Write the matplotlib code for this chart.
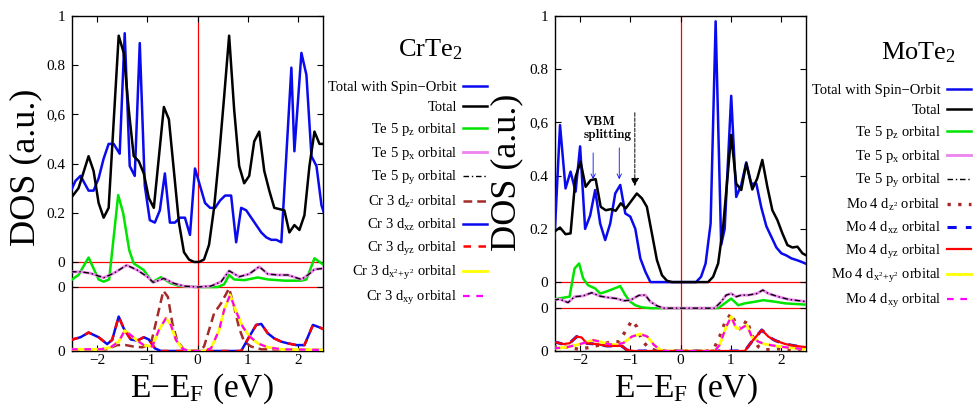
import numpy as np
import matplotlib
matplotlib.use('Agg')
import matplotlib.pyplot as plt

plt.rcParams['font.family'] = ['Liberation Serif', 'DejaVu Serif']
plt.rcParams['mathtext.fontset'] = 'custom'
plt.rcParams['mathtext.rm'] = 'Liberation Serif'
plt.rcParams['mathtext.it'] = 'Liberation Serif:italic'
plt.rcParams['mathtext.bf'] = 'Liberation Serif:bold'

# ---------------- CrTe2 ----------------
cr_tot_so_e = [-2.52, -2.43, -2.33, -2.17, -2.07, -1.97, -1.87, -1.77, -1.67, -1.55, -1.45, -1.35, -1.25,
               -1.15, -1.05, -0.95, -0.85, -0.75, -0.65, -0.55, -0.45, -0.35, -0.25, -0.15, -0.05, 0.05,
               0.15, 0.25, 0.35, 0.45, 0.55, 0.67, 0.77, 0.87, 0.97, 1.07, 1.17, 1.27, 1.37, 1.47, 1.57,
               1.67, 1.87, 1.93, 2.07, 2.17, 2.27, 2.37, 2.47, 2.52]
cr_tot_so = [0.29, 0.33, 0.35, 0.29, 0.29, 0.34, 0.42, 0.48, 0.48, 0.44, 0.93, 0.39, 0.35,
             0.89, 0.31, 0.17, 0.16, 0.21, 0.36, 0.16, 0.16, 0.18, 0.18, 0.11, 0.38, 0.31,
             0.24, 0.22, 0.22, 0.25, 0.27, 0.27, 0.08, 0.22, 0.21, 0.18, 0.15, 0.12, 0.10, 0.09, 0.09,
             0.08, 0.79, 0.45, 0.85, 0.76, 0.43, 0.39, 0.23, 0.20]

cr_tot_e = [-2.52, -2.37, -2.17, -2.07, -1.97, -1.87, -1.77, -1.57, -1.47, -1.37, -1.27, -1.17, -1.07,
            -0.97, -0.87, -0.67, -0.57, -0.47, -0.37, -0.27, -0.17, -0.07, 0.03, 0.13, 0.23, 0.33,
            0.43, 0.53, 0.63, 0.73, 0.83, 0.93, 1.03, 1.13, 1.23, 1.33, 1.43, 1.53, 1.73, 1.83, 1.93,
            2.03, 2.13, 2.23, 2.33, 2.43, 2.52]
cr_tot = [0.26, 0.30, 0.43, 0.37, 0.24, 0.18, 0.22, 0.92, 0.85, 0.62, 0.43, 0.41, 0.36,
          0.26, 0.22, 0.63, 0.58, 0.37, 0.16, 0.04, 0.01, 0.0, 0.0, 0.01, 0.07, 0.22,
          0.43, 0.67, 0.92, 0.62, 0.39, 0.32, 0.35, 0.49, 0.53, 0.37, 0.29, 0.22, 0.21, 0.12, 0.15,
          0.13, 0.19, 0.39, 0.53, 0.48, 0.48]

cr_pz_e = [-2.52, -2.37, -2.17, -1.97, -1.87, -1.76, -1.58, -1.48, -1.36, -1.27, -1.07, -0.9, -0.73,
           -0.53, -0.37, -0.2, 0.0, 0.4, 0.53, 0.63, 0.73, 0.93, 1.2, 1.4, 1.73, 2.07, 2.17, 2.33, 2.52]
cr_pz = [0.028, 0.049, 0.12, 0.031, 0.022, 0.031, 0.374, 0.30, 0.15, 0.096, 0.069, 0.02, 0.04,
         0.015, 0.005, 0.002, 0.0, 0.0, 0.011, 0.049, 0.031, 0.028, 0.039, 0.031, 0.026, 0.026, 0.031,
         0.117, 0.089]

cr_px_e = [-2.52, -2.33, -2.13, -1.87, -1.67, -1.41, -1.2, -1.0, -0.88, -0.67, -0.47, -0.27, 0.0,
           0.27, 0.47, 0.63, 0.83, 1.03, 1.23, 1.4, 1.6, 1.8, 2.07, 2.2, 2.33, 2.52]
cr_px = [0.062, 0.062, 0.056, 0.038, 0.056, 0.089, 0.069, 0.042, 0.019, 0.035, 0.015, 0.004, 0.0,
         0.004, 0.022, 0.066, 0.042, 0.053, 0.083, 0.053, 0.049, 0.049, 0.031, 0.049, 0.072, 0.076]
cr_py_e = cr_px_e
cr_py = cr_px

cr_dz2_e = [-2.52, -1.8, -1.6, -1.43, -1.27, -1.1, -0.93, -0.8, -0.68, -0.59, -0.5, -0.4, -0.27,
            -0.17, 0.03, 0.13, 0.23, 0.33, 0.47, 0.63, 0.73, 0.83, 0.93, 1.07, 1.27, 2.52]
cr_dz2 = [0.004, 0.007, 0.024, 0.024, 0.018, 0.015, 0.028, 0.14, 0.245, 0.22, 0.112, 0.038, 0.007,
          0.0, 0.0, 0.018, 0.085, 0.153, 0.194, 0.255, 0.18, 0.092, 0.038, 0.018, 0.007, 0.004]

cr_dxz_e = [-2.52, -2.33, -2.17, -1.97, -1.8, -1.7, -1.57, -1.47, -1.33, -1.2, -1.07, -0.97, -0.85,
            -0.73, 0.87, 1.03, 1.17, 1.27, 1.4, 1.53, 1.67, 1.8, 1.97, 2.13, 2.3, 2.43, 2.52]
cr_dxz = [0.045, 0.056, 0.075, 0.056, 0.028, 0.045, 0.14, 0.092, 0.047, 0.042, 0.056, 0.047, 0.011,
          0.0, 0.0, 0.058, 0.106, 0.11, 0.072, 0.051, 0.038, 0.031, 0.024, 0.024, 0.106, 0.096, 0.088]
cr_dyz_e = cr_dxz_e
cr_dyz = cr_dxz

cr_dx2y2_e = [-2.52, -1.93, -1.73, -1.57, -1.45, -1.33, -1.2, -1.07, -0.9, -0.77, -0.63, -0.53, -0.43,
              -0.3, -0.17, 0.13, 0.27, 0.43, 0.53, 0.65, 0.77, 0.9, 1.03, 1.2, 1.4, 1.67, 2.52]
cr_dx2y2 = [0.007, 0.007, 0.015, 0.038, 0.083, 0.065, 0.042, 0.024, 0.018, 0.085, 0.133, 0.106, 0.045,
            0.009, 0.0, 0.0, 0.011, 0.085, 0.167, 0.228, 0.16, 0.099, 0.061, 0.031, 0.015, 0.007, 0.004]
cr_dxy_e = cr_dx2y2_e
cr_dxy = cr_dx2y2

# ---------------- MoTe2 ----------------
mo_tot_so_e = [-2.51, -2.4, -2.29, -2.19, -2.09, -2.0, -1.9, -1.8, -1.7, -1.6, -1.5, -1.4, -1.3, -1.2,
               -1.1, -1.0, -0.9, -0.8, -0.7, -0.6, 0.31, 0.41, 0.5, 0.6, 0.7, 0.81, 0.88, 1.01, 1.11,
               1.21, 1.31, 1.41, 1.51, 1.61, 1.71, 1.81, 1.91, 2.01, 2.11, 2.21, 2.31, 2.41, 2.51]
mo_tot_so = [0.164, 0.59, 0.352, 0.415, 0.34, 0.51, 0.20, 0.25, 0.346, 0.22, 0.158, 0.22, 0.333, 0.365,
             0.258, 0.246, 0.20, 0.089, 0.039, 0.0, 0.0, 0.02, 0.07, 0.22, 0.98, 0.14, 0.2, 0.70, 0.32,
             0.365, 0.45, 0.37, 0.37, 0.28, 0.21, 0.17, 0.13, 0.108, 0.10, 0.089, 0.083, 0.076, 0.068]

mo_tot_e = [-2.51, -2.4, -2.29, -2.19, -2.09, -1.99, -1.89, -1.79, -1.69, -1.59, -1.49, -1.39, -1.29,
            -1.19, -1.09, -0.87, -0.77, -0.67, -0.57, -0.47, -0.37, -0.27, -0.17, 0.55, 0.65, 0.75,
            0.85, 1.01, 1.11, 1.21, 1.31, 1.43, 1.53, 1.63, 1.73, 1.83, 1.93, 2.03, 2.13, 2.23, 2.33,
            2.43, 2.51]
mo_tot = [0.19, 0.205, 0.18, 0.183, 0.396, 0.452, 0.358, 0.383, 0.387, 0.283, 0.27, 0.274, 0.268,
          0.296, 0.277, 0.333, 0.315, 0.283, 0.183, 0.083, 0.026, 0.005, 0.0, 0.0, 0.02, 0.07,
          0.21, 0.553, 0.37, 0.346, 0.446, 0.348, 0.39, 0.459, 0.358, 0.27, 0.233, 0.183, 0.139, 0.13,
          0.133, 0.108, 0.10]

mo_pz_e = [-2.53, -2.31, -2.21, -2.11, -2.02, -1.94, -1.84, -1.7, -1.6, -1.5, -1.37, -1.2, -1.1, -1.0,
           -0.9, -0.77, -0.6, 0.75, 0.88, 1.01, 1.15, 1.28, 1.48, 1.65, 1.89, 2.09, 2.52]
mo_pz = [0.033, 0.04, 0.043, 0.149, 0.168, 0.112, 0.086, 0.074, 0.055, 0.061, 0.07, 0.083, 0.049, 0.024,
         0.011, 0.003, 0.0, 0.0, 0.018, 0.036, 0.011, 0.018, 0.024, 0.03, 0.024, 0.018, 0.013]

mo_px_e = [-2.53, -2.41, -2.24, -2.11, -1.94, -1.77, -1.6, -1.44, -1.27, -1.13, -1.0, -0.83, -0.7, -0.6,
           -0.46, -0.33, 0.68, 0.81, 0.91, 1.01, 1.11, 1.21, 1.35, 1.52, 1.64, 1.75, 1.95, 2.15, 2.36, 2.52]
mo_px = [0.03, 0.034, 0.021, 0.043, 0.046, 0.058, 0.045, 0.04, 0.036, 0.028, 0.03, 0.048, 0.049, 0.024,
         0.008, 0.0, 0.0, 0.024, 0.049, 0.055, 0.043, 0.049, 0.049, 0.055, 0.068, 0.055, 0.043, 0.033,
         0.028, 0.024]
mo_py_e = mo_px_e
mo_py = mo_px

mo_dz2_e = [-2.53, -2.27, -2.0, -1.6, -1.37, -1.23, -1.1, -0.97, -0.87, -0.77, -0.63, -0.46, 0.54, 0.68,
            0.78, 0.88, 1.01, 1.11, 1.21, 1.32, 1.42, 1.55, 1.68, 1.95, 2.22, 2.52]
mo_dz2 = [0.016, 0.014, 0.006, 0.023, 0.035, 0.035, 0.073, 0.114, 0.091, 0.041, 0.01, 0.0, 0.0, 0.014,
          0.054, 0.104, 0.142, 0.098, 0.079, 0.117, 0.06, 0.016, 0.004, 0.008, 0.004, 0.004]

mo_dxz_e = [-2.53, -2.34, -2.21, -2.07, -1.97, -1.87, -1.67, -1.47, -1.27, -1.17, -1.07, -0.93, 1.28,
            1.42, 1.62, 1.75, 1.89, 2.09, 2.29, 2.52]
mo_dxz = [0.035, 0.026, 0.029, 0.054, 0.051, 0.029, 0.026, 0.019, 0.019, 0.019, 0.004, 0.0, 0.0,
          0.035, 0.079, 0.054, 0.039, 0.026, 0.019, 0.014]
mo_dyz_e = mo_dxz_e
mo_dyz = mo_dxz

mo_dx2y2_e = [-2.53, -2.27, -2.0, -1.74, -1.6, -1.44, -1.27, -1.13, -0.97, -0.8, -0.66, -0.53, -0.4,
              -0.3, 0.68, 0.78, 0.91, 1.01, 1.11, 1.21, 1.32, 1.42, 1.55, 1.68, 1.89, 2.09, 2.36, 2.52]
mo_dx2y2 = [0.01, 0.014, 0.026, 0.041, 0.035, 0.026, 0.023, 0.031, 0.054, 0.064, 0.054, 0.023, 0.004,
            0.0, 0.0, 0.023, 0.091, 0.129, 0.085, 0.085, 0.098, 0.054, 0.035, 0.026, 0.019, 0.014,
            0.009, 0.006]
mo_dxy_e = mo_dx2y2_e
mo_dxy = mo_dx2y2

ytick_labels = ['0', '0', '0', '0.2', '0.4', '0,6', '0.8', '1']
xticks = [-2, -1, 0, 1, 2]


def labels_for(metal, n):
    return ['Total with Spin\u2212Orbit', 'Total',
            r'Te 5 p$_{\rm z}$ orbital', r'Te 5 p$_{\rm x}$ orbital', r'Te 5 p$_{\rm y}$ orbital',
            metal + ' ' + n + r' d$_{\rm z^2}$ orbital', metal + ' ' + n + r' d$_{\rm xz}$ orbital',
            metal + ' ' + n + r' d$_{\rm yz}$ orbital',
            metal + ' ' + n + r' d$_{\rm x^2\!+\!y^2}$ orbital', metal + ' ' + n + r' d$_{\rm xy}$ orbital']


def draw_panel(ax, curves, styles, te_base, m_base):
    ax.axvline(0, color='red', lw=0.9, zorder=1)
    ax.axhline(0, color='red', lw=0.9, zorder=1)
    ax.axhline(te_base, color='red', lw=0.9, zorder=1)
    offs = [0, 0, te_base, te_base, te_base, m_base, m_base, m_base, m_base, m_base]
    lines = []
    for (e, v), st, off in zip(curves, styles, offs):
        ln, = ax.plot(e, np.array(v) + off, **st)
        lines.append(ln)
    ax.set_xlim(-2.5, 2.5)
    ax.set_ylim(m_base, 1.0)
    ax.set_xticks(xticks)
    ax.set_yticks([m_base, te_base, 0, 0.2, 0.4, 0.6, 0.8, 1.0])
    ax.set_yticklabels(ytick_labels)
    ax.tick_params(direction='in', top=True, right=True, length=4, width=0.8, labelsize=11, pad=5)
    ax.tick_params(axis='x', pad=2.5)
    for sp in ax.spines.values():
        sp.set_linewidth(1.0)
    return lines


fig = plt.figure(figsize=(9.73, 4.08), dpi=100)
ax1 = fig.add_axes([72 / 973, 1 - 351 / 408, 251 / 973, 335 / 408])
ax2 = fig.add_axes([555 / 973, 1 - 351 / 408, 251 / 973, 335 / 408])

blue = '#0a0aee'
cr_styles = [dict(color=blue, lw=1.8, zorder=3),
             dict(color='black', lw=1.8, zorder=4),
             dict(color='#00e400', lw=1.8, zorder=3),
             dict(color='#ee82ee', lw=2.0, zorder=3),
             dict(color='black', lw=1.0, dashes=(4, 2, 1, 2), zorder=4),
             dict(color='#a52a2a', lw=1.8, dashes=(3.5, 2), zorder=3),
             dict(color=blue, lw=1.8, zorder=3),
             dict(color='red', lw=1.8, dashes=(3, 3), zorder=4),
             dict(color='#ffff00', lw=2.0, zorder=3),
             dict(color='#ff00ff', lw=1.6, dashes=(3, 3), zorder=4)]
mo_styles = [dict(color=blue, lw=1.8, zorder=3),
             dict(color='black', lw=1.8, zorder=4),
             dict(color='#00e400', lw=1.8, zorder=3),
             dict(color='#ee82ee', lw=2.0, zorder=3),
             dict(color='black', lw=1.0, dashes=(4, 2, 1, 2), zorder=4),
             dict(color='#a52a2a', lw=2.4, dashes=(1, 2.2), zorder=3),
             dict(color=blue, lw=2.2, dashes=(3, 3), zorder=3),
             dict(color='red', lw=1.6, zorder=4),
             dict(color='#ffff00', lw=2.0, zorder=3),
             dict(color='#ff00ff', lw=1.6, dashes=(3, 3), zorder=4)]

cr_curves = [(cr_tot_so_e, cr_tot_so), (cr_tot_e, cr_tot), (cr_pz_e, cr_pz), (cr_px_e, cr_px),
             (cr_py_e, cr_py), (cr_dz2_e, cr_dz2), (cr_dxz_e, cr_dxz), (cr_dyz_e, cr_dyz),
             (cr_dx2y2_e, cr_dx2y2), (cr_dxy_e, cr_dxy)]
mo_curves = [(mo_tot_so_e, mo_tot_so), (mo_tot_e, mo_tot), (mo_pz_e, mo_pz), (mo_px_e, mo_px),
             (mo_py_e, mo_py), (mo_dz2_e, mo_dz2), (mo_dxz_e, mo_dxz), (mo_dyz_e, mo_dyz),
             (mo_dx2y2_e, mo_dx2y2), (mo_dxy_e, mo_dxy)]

l1 = draw_panel(ax1, cr_curves, cr_styles, -0.102, -0.362)
l2 = draw_panel(ax2, mo_curves, mo_styles, -0.098, -0.259)

leg_kw = dict(loc='upper right', bbox_transform=fig.transFigure, frameon=False, markerfirst=False,
              fontsize=10.5, handlelength=1.65, handletextpad=0.4, labelspacing=0.47, borderpad=0,
              borderaxespad=0)
ax1.legend(l1, labels_for('Cr', '3'), bbox_to_anchor=(487 / 973, 1 - 81 / 408), **leg_kw)
ax2.legend(l2, labels_for('Mo', '4'), bbox_to_anchor=(971 / 973, 1 - 84 / 408), **leg_kw)

fig.text(430 / 973, 1 - 50 / 408, 'CrTe$_2$', ha='center', va='center', fontsize=19)
fig.text(918 / 973, 1 - 53 / 408, 'MoTe$_2$', ha='center', va='center', fontsize=19)

for xc, yc in ((26, 167), (507, 172)):
    fig.text(xc / 973, 1 - yc / 408, 'DOS (a.u.)', rotation=90, ha='center', va='center', fontsize=26)
for xc in (202, 686):
    fig.text(xc / 973, 1 - 397 / 408, r'E$-$E$_{\rm F}$ (eV)', ha='center', va='baseline', fontsize=24)

# VBM splitting annotation
ax2.text(-1.92, 0.625, 'VBM\nsplitting', ha='left', va='top', fontsize=9.5,
         family=['cmb10', 'DejaVu Serif'], linespacing=1.15, zorder=6)
ax2.annotate('', xy=(-1.74, 0.376), xytext=(-1.74, 0.496),
             arrowprops=dict(arrowstyle='->', color=blue, lw=0.6, mutation_scale=8), zorder=6)
ax2.annotate('', xy=(-1.22, 0.376), xytext=(-1.22, 0.515),
             arrowprops=dict(arrowstyle='->', color=blue, lw=0.6, mutation_scale=8), zorder=6)
ax2.annotate('', xy=(-0.91, 0.35), xytext=(-0.91, 0.647),
             arrowprops=dict(arrowstyle='-|>', color='black', lw=0.7, ls='--', mutation_scale=12),
             zorder=6)

plt.savefig('out.png', dpi=100)
